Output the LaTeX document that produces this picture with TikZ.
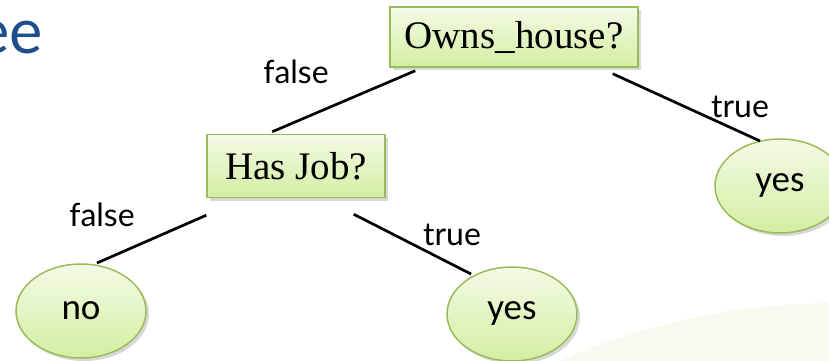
\documentclass[tikz,border=0pt]{standalone}
\usepackage{fontspec}
\setmainfont{Liberation Serif}
\newfontfamily\labelfont{Lato}
\newfontfamily\leaffont{Carlito}
\usetikzlibrary{shapes.geometric,shadows}
\definecolor{boxtop}{HTML}{F3FBE6}
\definecolor{boxbot}{HTML}{D3EEA2}
\definecolor{boxline}{HTML}{9BBB59}
\definecolor{titleblue}{RGB}{31,78,140}
\definecolor{bgcurve}{HTML}{F8F9F0}
\tikzset{
  testbox/.style={rectangle, draw=boxline, line width=1.5pt, top color=boxtop, bottom color=boxbot,
    inner sep=0pt, font=\fontsize{39}{39}\selectfont,
    drop shadow={shadow xshift=3pt, shadow yshift=-3pt, opacity=0.3, fill=gray}},
  leaf/.style={ellipse, draw=boxline, line width=1.5pt, top color=boxtop, bottom color=boxbot,
    minimum width=130pt, minimum height=94pt, inner sep=0pt, font=\leaffont\fontsize{37}{37}\selectfont,
    drop shadow={shadow xshift=3pt, shadow yshift=-3pt, opacity=0.3, fill=gray}},
  edgelabel/.style={inner sep=0pt, font=\labelfont\fontsize{32}{32}\selectfont},
  branch/.style={line width=2.7pt, black}
}
\begin{document}
\begin{tikzpicture}[x=1pt,y=-1pt]
\useasboundingbox (0,0) rectangle (829,361);
\clip (0,0) rectangle (829,361);
\fill[white] (0,0) rectangle (829,361);
\fill[bgcurve] (560,361) .. controls (650,322) and (730,305) .. (829,303) -- (829,361) -- cycle;

\node[anchor=base east, inner sep=0pt, text=titleblue, font=\labelfont\fontsize{63}{63}\selectfont] (title) at (43,53) {ee};

\node[testbox, minimum width=248pt, minimum height=60pt] (owns) at (514,37) {Owns\_house?};
\node[testbox, minimum width=178pt, minimum height=63pt] (hasjob) at (296,166) {Has Job?};
\node[leaf] (yesr) at (780,186) {yes};
\node[leaf] (no) at (81,311) {no};
\node[leaf] (yesb) at (512,314) {yes};

\draw[branch] ([shift={(26,3)}]owns.south west) -- ([shift={(66,-2)}]hasjob.north west);
\draw[branch] ([shift={(-26,6)}]owns.south east) -- ([shift={(-20,-45)}]yesr.center);
\draw[branch] ([shift={(0,17)}]hasjob.south west) -- ([shift={(16,-48)}]no.center);
\draw[branch] ([shift={(-32,16)}]hasjob.south east) -- ([shift={(-41,-40)}]yesb.center);

\node[edgelabel] (l1) at (296,72) {false};
\node[edgelabel] (l2) at (740,107) {true};
\node[edgelabel] (l3) at (102,215) {false};
\node[edgelabel] (l4) at (452,235) {true};
\end{tikzpicture}
\end{document}
